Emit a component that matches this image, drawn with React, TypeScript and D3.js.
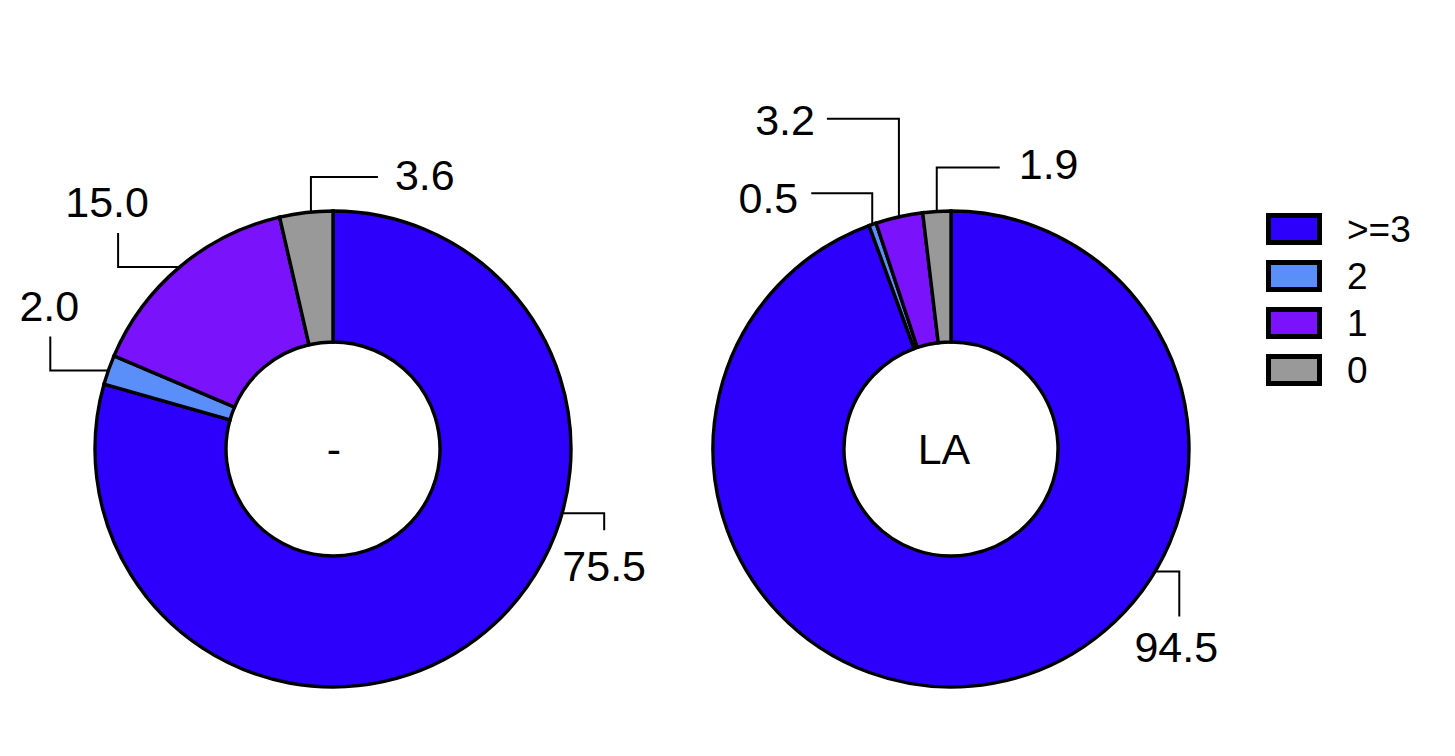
import React from "react";
import * as d3 from "d3";

const categories = [">=3", "2", "1", "0"];
const colors = ["#2C00FA", "#5A8EF8", "#7A12FB", "#999999"];
// slice sizes as drawn in the picture (left big slice spans ~79.4% of the ring)
const leftValues = [79.4, 2.0, 15.0, 3.6];
const rightValues = [94.5, 0.5, 3.2, 1.9];
const leftLabels = ["75.5", "2.0", "15.0", "3.6"];
const rightLabels = ["94.5", "0.5", "3.2", "1.9"];
const leftCenterText = "-";
const rightCenterText = "LA";

type Leader = {
  angle?: number; // override anchor angle in degrees (clockwise from top)
  kind: "vh" | "hv";
  dx: number;
  dy: number;
  tx: number;
  ty: number;
  anchor: "start" | "middle" | "end";
};

const leftLeaders: Leader[] = [
  { angle: 105.6, kind: "hv", dx: 41, dy: 17, tx: 0, ty: 51, anchor: "middle" },
  { angle: 289.2, kind: "hv", dx: -57, dy: -34, tx: -1, ty: -15, anchor: "middle" },
  { angle: 319.6, kind: "hv", dx: -60, dy: -34, tx: -11, ty: -16, anchor: "middle" },
  { angle: 354.7, kind: "vh", dx: 67, dy: -34, tx: 17, ty: 13, anchor: "start" },
];
const rightLeaders: Leader[] = [
  { angle: 120.8, kind: "hv", dx: 23, dy: 45, tx: -3, ty: 46, anchor: "middle" },
  { kind: "vh", dx: -61, dy: -30, tx: -13, ty: 20, anchor: "end" },
  { kind: "vh", dx: -72, dy: -97, tx: -12, ty: 16, anchor: "end" },
  { kind: "vh", dx: 63, dy: -43, tx: 19, ty: 12, anchor: "start" },
];

const FONT = "'Liberation Sans', Arial, Helvetica, sans-serif";
const OUTER = 238;
const INNER = 107;

function Donut(props: {
  cx: number;
  cy: number;
  values: number[];
  labels: string[];
  leaders: Leader[];
  centerText: string;
  centerDx: number;
}) {
  const { cx, cy, values, labels, leaders, centerText, centerDx } = props;
  const pie = d3
    .pie<number>()
    .sort(null)
    .value((d) => d)
    .startAngle(0)
    .endAngle(2 * Math.PI);
  const arcs = pie(values);
  const arc = d3.arc<d3.PieArcDatum<number>>().innerRadius(INNER).outerRadius(OUTER);

  return (
    <g transform={`translate(${cx},${cy})`}>
      {arcs.map((a, i) => (
        <path
          key={i}
          d={arc(a) || ""}
          fill={colors[i]}
          stroke="#000"
          strokeWidth={3.4}
          strokeLinejoin="miter"
        />
      ))}
      {arcs.map((a, i) => {
        const L = leaders[i];
        const ang =
          L.angle !== undefined ? (L.angle * Math.PI) / 180 : (a.startAngle + a.endAngle) / 2;
        const r = OUTER + 1;
        const ax = r * Math.sin(ang);
        const ay = -r * Math.cos(ang);
        let mx: number, my: number, ex: number, ey: number;
        if (L.kind === "vh") {
          mx = ax;
          my = ay + L.dy;
          ex = ax + L.dx;
          ey = my;
        } else {
          mx = ax + L.dx;
          my = ay;
          ex = mx;
          ey = ay + L.dy;
        }
        return (
          <g key={"l" + i}>
            <polyline
              points={`${ax},${ay} ${mx},${my} ${ex},${ey}`}
              fill="none"
              stroke="#000"
              strokeWidth={2}
            />
            <text
              x={ex + L.tx}
              y={ey + L.ty}
              textAnchor={L.anchor}
              fontFamily={FONT}
              fontSize={43}
              fill="#000"
            >
              {labels[i]}
            </text>
          </g>
        );
      })}
      <text
        x={centerDx}
        y={0}
        dy="0.35em"
        textAnchor="middle"
        fontFamily={FONT}
        fontSize={43}
        fill="#000"
      >
        {centerText}
      </text>
    </g>
  );
}

export default function App() {
  const legendY = d3.scaleBand<string>().domain(categories).range([213, 401]).padding(0);
  return (
    <svg
      width={1455}
      height={756}
      style={{ position: "absolute", left: 0, top: 0, background: "#fff" }}
    >
      <rect x={0} y={0} width={1455} height={756} fill="#fff" />
      <Donut
        cx={333}
        cy={449}
        values={leftValues}
        labels={leftLabels}
        leaders={leftLeaders}
        centerText={leftCenterText}
        centerDx={1}
      />
      <Donut
        cx={951}
        cy={449}
        values={rightValues}
        labels={rightLabels}
        leaders={rightLeaders}
        centerText={rightCenterText}
        centerDx={-7}
      />
      <g>
        {categories.map((c, i) => {
          const y = legendY(c) as number;
          return (
            <g key={c}>
              <rect
                x={1268.5}
                y={y + 2.5}
                width={51}
                height={27}
                fill={colors[i]}
                stroke="#000"
                strokeWidth={5}
              />
              <text
                x={1347}
                y={y + 16}
                dy="0.35em"
                fontFamily={FONT}
                fontSize={37}
                fill="#000"
              >
                {c}
              </text>
            </g>
          );
        })}
      </g>
    </svg>
  );
}
